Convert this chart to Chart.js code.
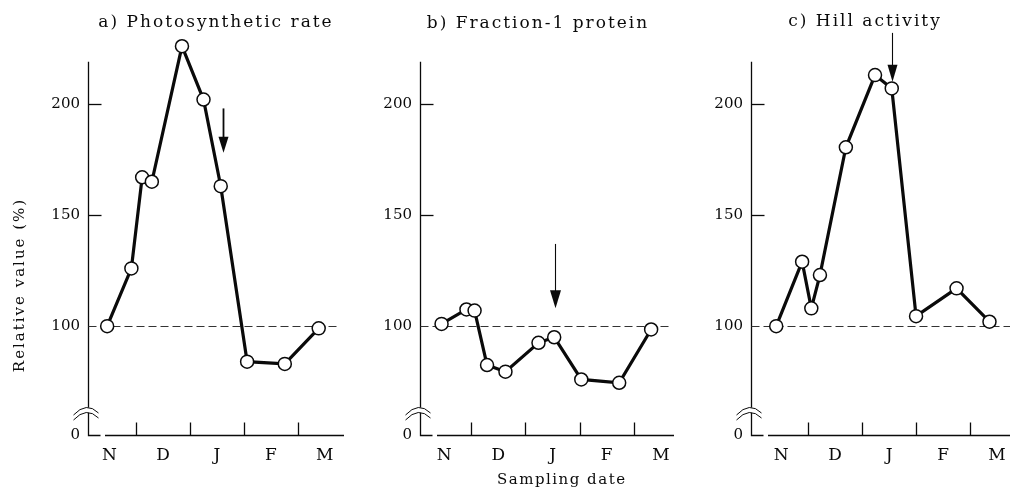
<!DOCTYPE html>
<html>
<head>
<meta charset="utf-8">
<script src="https://cdn.jsdelivr.net/npm/chart.js@4/dist/chart.umd.min.js"></script>
<style>
  html, body { margin: 0; padding: 0; background: #fff; }
  #wrap { position: relative; width: 1018px; height: 491px; overflow: hidden; background: #fff; }
  #wrap canvas { position: absolute; top: 0; }
</style>
</head>
<body>
<div id="wrap">
  <canvas id="panelA" width="352" height="491" style="left:0px"></canvas>
  <canvas id="panelB" width="338" height="491" style="left:352px"></canvas>
  <canvas id="panelC" width="328" height="491" style="left:690px"></canvas>
</div>
<script>
// Months on the x axis: label positions (month units) and month boundaries.
const months = ['N', 'D', 'J', 'F', 'M'];
const monthPos = [0, 1, 2, 3, 4];
const monthBounds = [0.5, 1.5, 2.5, 3.5];

// Y ticks above the axis break; the bottom of each axis is labelled 0.
const yTickValues = [100, 150, 200];
const refLevel = 100;
const yFloor = 51;     // axis break: the bottom of the plotted range is shown as "0"
const yAxisTop = 219;  // where the drawn y axis line stops
const yCeil = 233.3;   // headroom so the highest points and arrows stay in the plot area

// a) Photosynthetic rate (relative value, %)
const photoDates  = [-0.04, 0.41, 0.61, 0.79, 1.35, 1.75, 2.07, 2.56, 3.26, 3.89];
const photoValues = [100, 126, 167, 165, 226, 202, 163, 84, 83, 99];

// b) Fraction-1 protein (relative value, %)
const fracDates  = [-0.05, 0.41, 0.56, 0.79, 1.13, 1.74, 2.03, 2.53, 3.23, 3.82];
const fracValues = [101, 107.5, 107, 82.5, 79.5, 92.5, 95, 76, 74.5, 98.5];

// c) Hill activity (relative value, %)
const hillDates  = [-0.09, 0.39, 0.56, 0.72, 1.20, 1.74, 2.05, 2.50, 3.25, 3.86];
const hillValues = [100, 129, 108, 123, 180.5, 213, 207, 104.5, 117, 102];

// Arrow marks: date and the value range each arrow spans (tail -> tip)
const arrowDates = [2.11, 2.04, 2.06];
const arrowTails = [198, 137, 232];
const arrowTips  = [178, 108, 210];

const INK = '#0a0a0a';
const SERIF = "'DejaVu Serif', 'Liberation Serif', serif";

const panels = [
  { canvas: 'panelA', title: 'a) Photosynthetic rate', titleX: 215, titleY: 23,
    axisLeft: 88, xMin: -0.396, xMax: 4.36, dashEnd: -7, axisEnd: 0,
    dates: photoDates, values: photoValues, arrow: 0, arrowW: 1.8, headLen: 16, headHalf: 5,
    yTitle: true, xTitle: false },
  { canvas: 'panelB', title: 'b) Fraction-1 protein', titleX: 185, titleY: 24,
    axisLeft: 68, xMin: -0.448, xMax: 4.39, dashEnd: -10, axisEnd: -8,
    dates: fracDates, values: fracValues, arrow: 1, arrowW: 1.1, headLen: 18, headHalf: 5.5,
    yTitle: false, xTitle: true },
  { canvas: 'panelC', title: 'c) Hill activity', titleX: 174, titleY: 22,
    axisLeft: 61, xMin: -0.557, xMax: 4.24, dashEnd: 0, axisEnd: 0,
    dates: hillDates, values: hillValues, arrow: 2, arrowW: 1.1, headLen: 17, headHalf: 5,
    yTitle: false, xTitle: false }
];

function seg(ctx, x0, y0, x1, y1) {
  ctx.beginPath(); ctx.moveTo(x0, y0); ctx.lineTo(x1, y1); ctx.stroke();
}

function spacedText(ctx, text, x, y, font, spacing, rotate) {
  ctx.save();
  ctx.font = font;
  ctx.fillStyle = INK;
  ctx.textAlign = 'center';
  ctx.textBaseline = 'middle';
  ctx.letterSpacing = spacing + 'px';
  ctx.translate(x, y);
  if (rotate) ctx.rotate(-Math.PI / 2);
  ctx.fillText(text, spacing / 2, 0);
  ctx.restore();
}

function decorPlugin(p) {
  return {
    id: 'decor',
    beforeDatasetsDraw(chart) {
      const { ctx, chartArea: ca, scales: { x, y } } = chart;
      const ax = Math.round(ca.left) + 0.5;
      const bottom = Math.round(ca.bottom) + 0.5;
      const top = y.getPixelForValue(yAxisTop);
      ctx.save();
      ctx.strokeStyle = INK;
      ctx.lineWidth = 1.3;
      // y axis with the corner at zero
      ctx.beginPath();
      ctx.moveTo(ax, top);
      ctx.lineTo(ax, bottom);
      ctx.lineTo(ax + 12, bottom);
      ctx.stroke();
      // x axis, detached from the corner
      seg(ctx, ca.left + 17, bottom, ca.right + p.axisEnd, bottom);
      // inward tick marks
      yTickValues.filter(v => v !== refLevel).forEach(v => {
        const py = Math.round(y.getPixelForValue(v)) + 0.5;
        seg(ctx, ax, py, ax + 13, py);
      });
      monthBounds.forEach(v => {
        const px = Math.round(x.getPixelForValue(v)) + 0.5;
        seg(ctx, px, bottom, px, bottom - 13);
      });
      // 100 % reference level
      const ry = Math.round(y.getPixelForValue(refLevel)) + 0.5;
      ctx.lineWidth = 1;
      ctx.strokeStyle = '#333';
      ctx.setLineDash([8, 4]);
      seg(ctx, ax, ry, ca.right + p.dashEnd, ry);
      ctx.setLineDash([]);
      // axis break symbol
      const by = ca.bottom - 23;
      ctx.fillStyle = '#fff';
      ctx.beginPath();
      ctx.moveTo(ax - 15, by + 3);
      ctx.quadraticCurveTo(ax - 2, by - 11, ax + 10, by + 1);
      ctx.lineTo(ax + 10, by + 6);
      ctx.quadraticCurveTo(ax - 2, by - 6, ax - 15, by + 8);
      ctx.closePath();
      ctx.fill();
      ctx.strokeStyle = INK;
      ctx.lineWidth = 1;
      ctx.beginPath();
      ctx.moveTo(ax - 15, by + 3);
      ctx.quadraticCurveTo(ax - 2, by - 11, ax + 10, by + 1);
      ctx.moveTo(ax - 15, by + 8);
      ctx.quadraticCurveTo(ax - 2, by - 6, ax + 10, by + 6);
      ctx.stroke();
      ctx.restore();
    },
    afterDatasetsDraw(chart) {
      const { ctx, scales: { x, y } } = chart;
      const i = p.arrow;
      const px = Math.round(x.getPixelForValue(arrowDates[i])) + 0.5;
      const y0 = y.getPixelForValue(arrowTails[i]);
      const y1 = y.getPixelForValue(arrowTips[i]);
      ctx.save();
      ctx.strokeStyle = INK;
      ctx.fillStyle = INK;
      ctx.lineWidth = p.arrowW;
      seg(ctx, px, y0, px, y1 - p.headLen + 2);
      ctx.beginPath();
      ctx.moveTo(px - p.headHalf, y1 - p.headLen);
      ctx.lineTo(px + p.headHalf, y1 - p.headLen);
      ctx.lineTo(px, y1);
      ctx.closePath();
      ctx.fill();
      ctx.restore();
    },
    afterDraw(chart) {
      const { ctx } = chart;
      spacedText(ctx, p.title, p.titleX, p.titleY, '17px ' + SERIF, 2, false);
      if (p.yTitle) spacedText(ctx, 'Relative value (%)', 20, 286, '15px ' + SERIF, 2, true);
      if (p.xTitle) spacedText(ctx, 'Sampling date', 209, 480, '15px ' + SERIF, 1.5, false);
    }
  };
}

panels.forEach(p => {
  new Chart(document.getElementById(p.canvas), {
    type: 'line',
    data: {
      datasets: [{
        data: p.dates.map((d, i) => ({ x: d, y: p.values[i] })),
        borderColor: INK,
        borderWidth: 3.2,
        pointRadius: 6.5,
        pointBackgroundColor: '#fff',
        pointBorderColor: INK,
        pointBorderWidth: 1.5,
        tension: 0,
        clip: false
      }]
    },
    options: {
      responsive: false,
      animation: false,
      devicePixelRatio: 1,
      events: [],
      layout: { padding: { top: 30, left: 0, right: 0, bottom: 0 } },
      plugins: { legend: { display: false }, tooltip: { enabled: false }, title: { display: false } },
      scales: {
        x: {
          type: 'linear',
          position: 'bottom',
          min: p.xMin,
          max: p.xMax,
          grid: { display: false, drawTicks: false },
          border: { display: false },
          afterBuildTicks: s => { s.ticks = monthPos.map(v => ({ value: v })); },
          afterFit: s => { s.height = 56; },
          ticks: {
            autoSkip: false,
            maxRotation: 0,
            padding: 10,
            color: INK,
            font: { family: SERIF, size: 17 },
            callback: v => months[monthPos.indexOf(v)]
          }
        },
        y: {
          type: 'linear',
          position: 'left',
          min: yFloor,
          max: yCeil,
          grid: { display: false, drawTicks: false },
          border: { display: false },
          afterBuildTicks: s => { s.ticks = [yFloor].concat(yTickValues).map(v => ({ value: v })); },
          afterFit: s => { s.width = p.axisLeft; },
          ticks: {
            padding: 8,
            color: INK,
            font: { family: SERIF, size: 15 },
            callback: v => (v === yFloor ? '0' : String(v))
          }
        }
      }
    },
    plugins: [decorPlugin(p)]
  });
});
</script>
</body>
</html>
